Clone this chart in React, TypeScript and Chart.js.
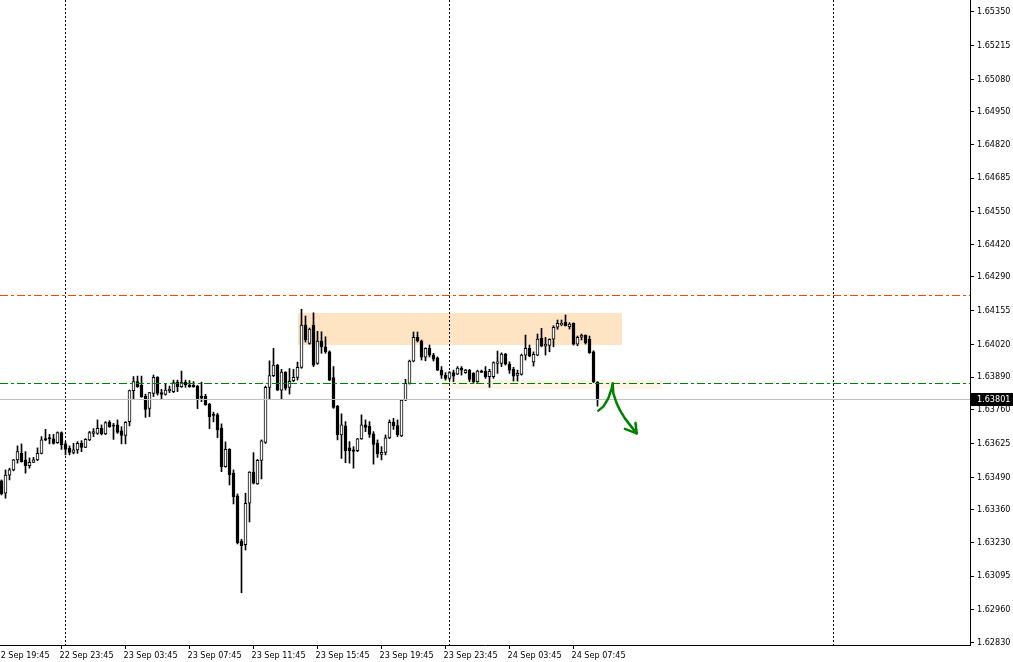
import React, { useEffect, useRef } from "react";
import { Chart, registerables } from "chart.js";

Chart.register(...registerables);

// ---------- DATA ----------
const timeLabels = [
  "22 Sep 19:45", "22 Sep 23:45", "23 Sep 03:45", "23 Sep 07:45", "23 Sep 11:45",
  "23 Sep 15:45", "23 Sep 19:45", "23 Sep 23:45", "24 Sep 03:45", "24 Sep 07:45",
];
const timeLabelBars = [-1, 15, 31, 47, 63, 79, 95, 111, 127, 143];

const priceTicks = [
  1.6535, 1.65215, 1.6508, 1.6495, 1.6482, 1.64685, 1.6455, 1.6442, 1.6429, 1.64155,
  1.6402, 1.6389, 1.6376, 1.63625, 1.6349, 1.6336, 1.6323, 1.63095, 1.6296, 1.6283,
];

const opens = [
  1.63475, 1.63426, 1.63498, 1.63519, 1.63559, 1.63585, 1.63559, 1.63536, 1.63549, 1.63559,
  1.63585, 1.63644, 1.63645, 1.63643, 1.63628, 1.63668, 1.63623, 1.63605, 1.63589, 1.63599,
  1.63625, 1.63609, 1.63639, 1.63665, 1.63665, 1.63685, 1.63663, 1.63709, 1.63696, 1.63699,
  1.63675, 1.63657, 1.63712, 1.63836, 1.63872, 1.63858, 1.63814, 1.63765, 1.63825, 1.63889,
  1.63828, 1.63821, 1.63836, 1.63832, 1.6387, 1.63852, 1.6387, 1.63858, 1.63858, 1.63854,
  1.63813, 1.63813, 1.63782, 1.63739, 1.63739, 1.63685, 1.63532, 1.63601, 1.63506, 1.63415,
  1.63235, 1.6322, 1.63386, 1.6351, 1.63463, 1.63557, 1.63629, 1.63849, 1.63896, 1.63938,
  1.63838, 1.63909, 1.63849, 1.63876, 1.63889, 1.63929, 1.64098, 1.64025, 1.64098, 1.63945,
  1.64034, 1.64011, 1.63991, 1.63888, 1.63774, 1.63659, 1.63695, 1.63607, 1.63599, 1.63596,
  1.63643, 1.63699, 1.63693, 1.63663, 1.63625, 1.63581, 1.63589, 1.63647, 1.63709, 1.63696,
  1.63655, 1.63798, 1.63865, 1.63954, 1.64049, 1.64034, 1.6397, 1.64005, 1.63978, 1.63967,
  1.63918, 1.63898, 1.63885, 1.63908, 1.63902, 1.63926, 1.63908, 1.63918, 1.63905, 1.63872,
  1.63914, 1.63914, 1.63892, 1.63892, 1.63945, 1.63945, 1.63982, 1.63942, 1.63921, 1.63897,
  1.63901, 1.63978, 1.64005, 1.63951, 1.63978, 1.64045, 1.64014, 1.64017, 1.64041, 1.64089,
  1.64098, 1.64109, 1.64091, 1.64105, 1.64022, 1.64049, 1.64057, 1.64041, 1.63991, 1.63869,
];
const highs = [
  1.63479, 1.63519, 1.63526, 1.63561, 1.63615, 1.63623, 1.63592, 1.63567, 1.63569, 1.63607,
  1.63652, 1.63681, 1.63661, 1.63661, 1.63671, 1.63671, 1.63632, 1.63615, 1.63625, 1.63632,
  1.63636, 1.63644, 1.63673, 1.63684, 1.63719, 1.63699, 1.63712, 1.63716, 1.63705, 1.63719,
  1.63692, 1.63712, 1.63838, 1.63892, 1.63894, 1.63894, 1.63822, 1.63829, 1.63898, 1.63892,
  1.63841, 1.63865, 1.63854, 1.63878, 1.63878, 1.63914, 1.63878, 1.63876, 1.63872, 1.63857,
  1.6387, 1.63821, 1.63785, 1.6375, 1.63745, 1.63703, 1.63631, 1.63604, 1.63519, 1.63423,
  1.63242, 1.63426, 1.63512, 1.63588, 1.63561, 1.63639, 1.63854, 1.63955, 1.64005, 1.63941,
  1.63921, 1.63912, 1.63924, 1.63921, 1.6395, 1.64161, 1.64134, 1.64086, 1.64147, 1.64073,
  1.64071, 1.64051, 1.63995, 1.63932, 1.63777, 1.63743, 1.63712, 1.63632, 1.63612, 1.63645,
  1.63739, 1.63719, 1.63712, 1.63672, 1.63639, 1.63612, 1.63659, 1.63719, 1.63725, 1.63719,
  1.63801, 1.63881, 1.63958, 1.6407, 1.6407, 1.64038, 1.64007, 1.64018, 1.63985, 1.63971,
  1.63932, 1.63908, 1.63912, 1.63918, 1.63932, 1.63932, 1.63921, 1.63921, 1.63908, 1.63918,
  1.63918, 1.63932, 1.63921, 1.63951, 1.63994, 1.63987, 1.63985, 1.63951, 1.63929, 1.63918,
  1.63982, 1.64058, 1.64018, 1.63991, 1.64062, 1.64085, 1.64049, 1.64043, 1.64095, 1.64118,
  1.64118, 1.64138, 1.64107, 1.64107, 1.64054, 1.64062, 1.64059, 1.64054, 1.63995, 1.63872,
];
const lows = [
  1.63419, 1.63406, 1.63479, 1.63515, 1.63546, 1.6355, 1.63506, 1.63526, 1.63548, 1.63556,
  1.63583, 1.63636, 1.63623, 1.63622, 1.63625, 1.63601, 1.63579, 1.63579, 1.63583, 1.63585,
  1.63592, 1.63608, 1.63636, 1.63652, 1.63661, 1.63659, 1.6366, 1.63689, 1.63641, 1.63665,
  1.63623, 1.63623, 1.63695, 1.63801, 1.63849, 1.63809, 1.63729, 1.63732, 1.63812, 1.63818,
  1.63801, 1.63818, 1.63828, 1.63828, 1.63832, 1.63849, 1.63849, 1.63849, 1.63849, 1.63764,
  1.63792, 1.63777, 1.63684, 1.63711, 1.63648, 1.63512, 1.6353, 1.63459, 1.63383, 1.63223,
  1.63028, 1.63199, 1.63311, 1.63463, 1.63461, 1.63483, 1.63625, 1.63802, 1.63892, 1.63836,
  1.63801, 1.63838, 1.63822, 1.63872, 1.63878, 1.63925, 1.6403, 1.64021, 1.63932, 1.63941,
  1.63985, 1.63985, 1.63876, 1.63765, 1.63639, 1.63565, 1.63548, 1.63546, 1.63526, 1.63592,
  1.63641, 1.63672, 1.63649, 1.63542, 1.63569, 1.63559, 1.63579, 1.63644, 1.63681, 1.63652,
  1.63652, 1.63796, 1.63862, 1.63951, 1.6403, 1.63958, 1.63955, 1.6397, 1.63954, 1.63916,
  1.63885, 1.63878, 1.63878, 1.63872, 1.639, 1.63898, 1.63905, 1.63872, 1.63865, 1.63869,
  1.63908, 1.63885, 1.63849, 1.63885, 1.63905, 1.63932, 1.63938, 1.63905, 1.63874, 1.63874,
  1.63898, 1.63958, 1.63971, 1.63934, 1.63975, 1.64011, 1.63978, 1.63991, 1.64011, 1.64081,
  1.64095, 1.64094, 1.64082, 1.64018, 1.64015, 1.64038, 1.64022, 1.63985, 1.63868, 1.63774,
];
const closes = [
  1.63423, 1.63498, 1.63519, 1.63559, 1.63592, 1.63552, 1.63536, 1.63549, 1.63559, 1.63585,
  1.63639, 1.63639, 1.63644, 1.63625, 1.63668, 1.63619, 1.63601, 1.63589, 1.63599, 1.63625,
  1.63609, 1.63641, 1.63668, 1.63672, 1.63685, 1.63663, 1.63708, 1.63692, 1.63694, 1.63669,
  1.63657, 1.63709, 1.63836, 1.63872, 1.63852, 1.63812, 1.63761, 1.63828, 1.63889, 1.63825,
  1.63821, 1.63838, 1.63841, 1.63868, 1.63852, 1.6387, 1.6386, 1.63852, 1.63852, 1.63804,
  1.63806, 1.6378, 1.63732, 1.63737, 1.63679, 1.63532, 1.63601, 1.635, 1.63412, 1.63228,
  1.63216, 1.63386, 1.6351, 1.63466, 1.63557, 1.63635, 1.63849, 1.63896, 1.63938, 1.63838,
  1.6391, 1.63845, 1.63873, 1.63889, 1.63929, 1.64098, 1.64038, 1.64082, 1.63938, 1.64034,
  1.64011, 1.63991, 1.63878, 1.63769, 1.63659, 1.63699, 1.63596, 1.63596, 1.63593, 1.63643,
  1.63699, 1.63689, 1.63661, 1.63621, 1.63583, 1.63589, 1.63647, 1.63709, 1.63696, 1.6366,
  1.63798, 1.63865, 1.63954, 1.64049, 1.64034, 1.6397, 1.64005, 1.63978, 1.63962, 1.63918,
  1.63898, 1.63885, 1.63908, 1.63894, 1.63926, 1.63918, 1.63918, 1.63881, 1.63872, 1.63914,
  1.63909, 1.63892, 1.63914, 1.63948, 1.63951, 1.63982, 1.63942, 1.63918, 1.63894, 1.63905,
  1.63978, 1.64005, 1.63974, 1.63981, 1.64042, 1.64014, 1.64021, 1.64041, 1.64089, 1.64105,
  1.64105, 1.64095, 1.64102, 1.64022, 1.64049, 1.64058, 1.64027, 1.63987, 1.63872, 1.63801,
];

const daySeparatorBars = [16, 112, 208];
const resistanceLevel = 1.64218;
const supportLevel = 1.63866;
const bidPrice = 1.63801;

// zones: [fromBar, toBar, upperPrice, lowerPrice]
const supplyZone = [74, 155, 1.64146, 1.64018];
const retestZone = [110, 165, 1.63878, 1.63842];

// hand-drawn arrow (bar index, price)
const arrowBars = [149.2, 150.45, 151.7, 152.55, 152.8, 152.95, 153.8, 154.6, 155.85, 157.1, 158.8];
const arrowPrices = [1.63756, 1.63772, 1.63805, 1.63845, 1.63865, 1.63825, 1.63785, 1.63758, 1.63725, 1.63699, 1.63665];
const arrowHeadBars = [155.85, 158.5];
const arrowHeadPrices = [1.63683, 1.63707];

// ---------- CHART ----------
const FONT = "'DejaVu Sans Condensed', 'Liberation Sans', sans-serif";

function hDashed(ctx: any, x0: number, x1: number, row: number, pattern: number[], color: string) {
  ctx.fillStyle = color;
  if (!pattern.length) {
    ctx.fillRect(x0, row, x1 - x0, 1);
    return;
  }
  let pos = x0;
  let k = 0;
  while (pos < x1) {
    const len = pattern[k % pattern.length];
    if (k % 2 === 0) ctx.fillRect(pos, row, Math.min(len, x1 - pos), 1);
    pos += len;
    k++;
  }
}

function vDashed(ctx: any, col: number, y0: number, y1: number, pattern: number[], color: string) {
  ctx.fillStyle = color;
  let pos = y0;
  let k = 0;
  while (pos < y1) {
    const len = pattern[k % pattern.length];
    if (k % 2 === 0) ctx.fillRect(col, pos, 1, Math.min(len, y1 - pos));
    pos += len;
    k++;
  }
}

const overlayPlugin = {
  id: "mt4Overlay",
  beforeDatasetsDraw(chart: any) {
    const { ctx, chartArea: a, scales } = chart;
    const x = scales.x, y = scales.y;
    ctx.save();
    ctx.beginPath();
    ctx.rect(a.left, a.top, a.right - a.left, a.bottom - a.top);
    ctx.clip();
    const zone = (z: number[], color: string) => {
      const x0 = Math.round(x.getPixelForValue(z[0]));
      const x1 = Math.round(x.getPixelForValue(z[1]));
      const y0 = Math.round(y.getPixelForValue(z[2]));
      const y1 = Math.round(y.getPixelForValue(z[3]));
      ctx.fillStyle = color;
      ctx.fillRect(x0, y0, x1 - x0, y1 - y0);
    };
    zone(supplyZone, "#FFE4C4");
    zone(retestZone, "#FDF5E6");
    daySeparatorBars.forEach((b) => {
      const col = Math.floor(x.getPixelForValue(b));
      vDashed(ctx, col, a.top, a.bottom, [2, 2], "#000000");
    });
    ctx.restore();
  },
  afterDatasetsDraw(chart: any) {
    const { ctx, chartArea: a, scales } = chart;
    const x = scales.x, y = scales.y;
    ctx.save();
    ctx.beginPath();
    ctx.rect(a.left, a.top, a.right - a.left, a.bottom - a.top);
    ctx.clip();
    const row = (p: number) => Math.round(y.getPixelForValue(p));
    hDashed(ctx, a.left, a.right, row(bidPrice), [], "#C0C0C0");
    hDashed(ctx, a.left, a.right, row(supportLevel), [8, 3, 3, 3], "#008000");
    hDashed(ctx, a.left, a.right, row(resistanceLevel), [8, 3, 3, 3], "#FF4500");

    // hand-drawn arrow
    ctx.setLineDash([]);
    ctx.strokeStyle = "#008000";
    ctx.lineWidth = 2.5;
    ctx.lineJoin = "round";
    ctx.lineCap = "round";
    ctx.beginPath();
    arrowBars.forEach((b, i) => {
      const px = x.getPixelForValue(b);
      const py = y.getPixelForValue(arrowPrices[i]);
      if (i === 0) ctx.moveTo(px, py);
      else ctx.lineTo(px, py);
    });
    ctx.stroke();
    const tipX = x.getPixelForValue(arrowBars[arrowBars.length - 1]);
    const tipY = y.getPixelForValue(arrowPrices[arrowPrices.length - 1]);
    ctx.beginPath();
    arrowHeadBars.forEach((b, i) => {
      ctx.moveTo(tipX, tipY);
      ctx.lineTo(x.getPixelForValue(b), y.getPixelForValue(arrowHeadPrices[i]));
    });
    ctx.stroke();
    ctx.restore();
  },
  afterDraw(chart: any) {
    const { ctx, chartArea: a, scales } = chart;
    const y = scales.y;
    const py = Math.round(y.getPixelForValue(bidPrice));
    ctx.save();
    ctx.fillStyle = "#000";
    ctx.fillRect(a.right + 1, py - 6, chart.width - a.right - 1, 13);
    ctx.fillStyle = "#fff";
    ctx.font = `9px ${FONT}`;
    ctx.textBaseline = "middle";
    ctx.textAlign = "left";
    ctx.fillText(bidPrice.toFixed(5), a.right + 7, py + 0.5);
    ctx.restore();
  },
};

export default function App() {
  const ref = useRef<HTMLCanvasElement>(null);

  useEffect(() => {
    const canvas = ref.current;
    if (!canvas) return;
    const idx = opens.map((_, i) => i);
    const bull = idx.map((i) => closes[i] >= opens[i]);

    const chart = new Chart(canvas, {
      type: "bar",
      data: {
        datasets: [
          {
            label: "body",
            data: idx.map((i) => ({ x: i, y: [opens[i], closes[i]] })) as any,
            backgroundColor: bull.map((b) => (b ? "#FFFFFF" : "#000000")),
            borderColor: "#000000",
            borderWidth: 1,
            borderSkipped: false,
            barThickness: 3,
            minBarLength: 1,
            grouped: false,
            order: 0,
          } as any,
          {
            label: "wick",
            data: idx.map((i) => ({ x: i, y: [lows[i], highs[i]] })) as any,
            backgroundColor: "#000000",
            borderWidth: 0,
            barThickness: 1,
            grouped: false,
            order: 1,
          } as any,
        ],
      },
      options: {
        responsive: false,
        animation: false,
        events: [],
        layout: { padding: 0 },
        plugins: { legend: { display: false }, tooltip: { enabled: false } },
        scales: {
          x: {
            type: "linear",
            min: -0.375,
            max: 242.125,
            offset: false,
            bounds: "data",
            grid: { display: true, drawOnChartArea: false, drawTicks: true, tickLength: 4, color: "#000", offset: false },
            border: { display: true, color: "#000", width: 1 },
            ticks: {
              autoSkip: false,
              maxRotation: 0,
              minRotation: 0,
              align: "start",
              padding: 1,
              labelOffset: -2,
              color: "#000",
              font: { family: FONT, size: 9 },
              callback: (v: any) => {
                const k = timeLabelBars.indexOf(Number(v));
                return k >= 0 ? timeLabels[k] : "";
              },
            },
            afterBuildTicks: (s: any) => {
              s.ticks = timeLabelBars.map((v) => ({ value: v }));
            },
            afterFit: (s: any) => {
              s.height = 17;
              s.paddingLeft = 0;
              s.paddingRight = 0;
            },
          } as any,
          y: {
            type: "linear",
            position: "right",
            min: 1.628194,
            max: 1.653968,
            beginAtZero: false,
            bounds: "data",
            grid: { display: true, drawOnChartArea: false, drawTicks: true, tickLength: 4, color: "#000" },
            border: { display: true, color: "#000", width: 1 },
            ticks: {
              padding: 3,
              color: "#000",
              font: { family: FONT, size: 9 },
              callback: (v: any) => Number(v).toFixed(5),
            },
            afterBuildTicks: (s: any) => {
              s.ticks = priceTicks.map((v) => ({ value: v }));
            },
            afterFit: (s: any) => {
              s.width = 43;
              s.paddingTop = 0;
              s.paddingBottom = 0;
            },
          } as any,
        },
      },
      plugins: [overlayPlugin],
    });
    return () => chart.destroy();
  }, []);

  return (
    <div style={{ position: "fixed", left: 0, top: 0, width: 1013, height: 662, background: "#fff" }}>
      <canvas ref={ref} width={1013} height={662} style={{ width: 1013, height: 662, display: "block" }} />
    </div>
  );
}
